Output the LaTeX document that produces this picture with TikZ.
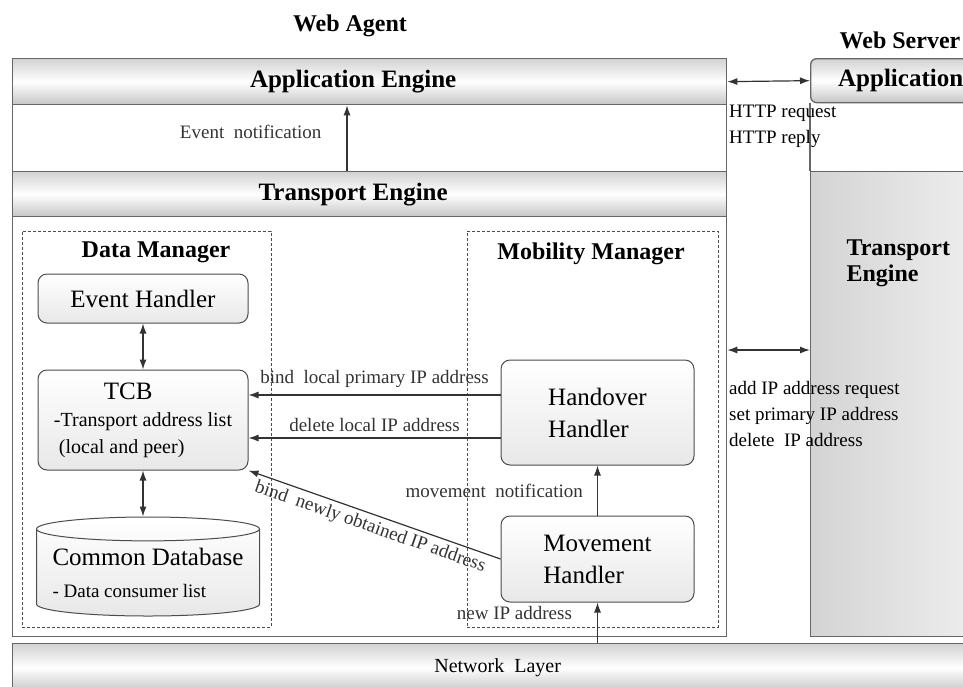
\documentclass[tikz,border=0pt]{standalone}
\usepackage{fontspec}
\setmainfont{Liberation Serif}
\usetikzlibrary{arrows.meta,positioning,fit,shapes.geometric}

\begin{document}
\begin{tikzpicture}[x=1pt,y=-1pt,
        >={Latex[length=10pt,width=7pt]},
        conn/.style={line width=1.2pt,black!80},
        frame/.style={draw=black!60,line width=1.3pt,inner sep=0pt},
        bar/.style={frame,top color=gray!35,bottom color=gray!45,middle color=white,font=\bfseries\fontsize{25}{30}\selectfont},
        handler/.style={draw=black!70,line width=1pt,rounded corners=9pt,top color=white,bottom color=gray!18,align=left,inner sep=0pt,font=\fontsize{25}{32}\selectfont,minimum width=210pt},
        database/.style={draw=black!70,line width=1pt,cylinder,shape border rotate=90,aspect=0.125,top color=white,bottom color=gray!18,align=left,inner sep=0pt,font=\fontsize{25}{32}\selectfont,minimum width=223pt,minimum height=99pt},
        groupbox/.style={draw=black!70,densely dashed,line width=0.8pt,inner sep=0pt},
        title/.style={font=\bfseries\fontsize{24}{29}\selectfont},
        lbl/.style={font=\fontsize{19}{26}\selectfont,inner sep=1pt},
        node distance=46pt
        ]
        \useasboundingbox (0,0) rectangle (963,686);

        % the web agent
        \node[frame,minimum width=714pt,minimum height=578pt,anchor=north west] (agent) at (12,58) {};
        \node[bar,minimum width=714pt,minimum height=46pt,anchor=north west] (appeng) at (12,58) {Application Engine\hspace*{33pt}};
        \node[bar,minimum width=714pt,minimum height=45pt,anchor=north west] (traneng) at (12,171) {Transport Engine\hspace*{33pt}};
        \node[title] (agenttitle) at (350,26) {Web Agent};

        % the web server
        \node[bar,rounded corners=6pt,minimum width=180pt,minimum height=44pt,anchor=north west] (app) at (810,58) {Application};
        \node[frame,left color=gray!34,right color=gray!12,minimum width=180pt,minimum height=465pt,anchor=north west] (srveng) at (810,171) {};
        \node[title,align=left,anchor=north west,font=\bfseries\fontsize{24}{26}\selectfont] (srvtitle) at (843,236) {Transport\\Engine};
        \node[title] (servertitle) at (900,40) {Web Server};
        \draw[black!60,line width=1.3pt] (app.south west) -- (srveng.north west);

        % the network layer
        \node[bar,font=\fontsize{20}{24}\selectfont,minimum width=970pt,minimum height=48pt,anchor=north west] (net) at (12,643) {Network\ \ Layer};

        % the managers
        \node[groupbox,fit={(22,231) (271,627)}] (dm) {};
        \node[groupbox,fit={(467,231) (718,627)}] (mm) {};
        \node[title] (dmtitle) at (156,252) {Data Manager};
        \node[title] (mmtitle) at (591,254) {Mobility Manager};

        % the data manager
        \node[handler,minimum height=49pt] (evh) at (143,298.5) {Event Handler};
        \node[handler,minimum height=100pt,below=of evh,font=\fontsize{20}{27}\selectfont] (tcb)
            {\hspace*{50pt}{\fontsize{25}{30}\selectfont TCB}\\-Transport address list\\\ (local and peer)};
        \node[database,below=of tcb,xshift=5pt] (db) {Common Database\\{\fontsize{19}{24}\selectfont - Data consumer list}};

        % the mobility manager
        \node[handler,minimum width=193pt,minimum height=105pt] (hand) at (597.5,412.5) {Handover\\Handler};
        \node[handler,minimum width=193pt,minimum height=86pt,below=50pt of hand] (mov) {Movement\\Handler};

        % the helper coordinates
        \coordinate (evx) at (347,0);
        \coordinate (srvy) at (0,350);
        \coordinate (bindy) at (0,395);
        \coordinate (dely) at (0,438);

        % the edges
        \draw[conn,<->] (appeng.east) -- (app.west);
        \node[lbl,align=left,anchor=north west] (http) at (728,104) {HTTP request\\HTTP reply};
        \draw[conn,->] (traneng.north -| evx) -- (appeng.south -| evx) node[lbl,pos=0.6,left=24pt] {Event\ \ notification};
        \draw[conn,<->] (agent.east |- srvy) -- (srveng.west |- srvy);
        \node[lbl,align=left,anchor=north west] (ipreq) at (728,380) {add IP address request\\set primary IP address\\delete\ \ IP address};
        \draw[conn,<->] (evh) -- (tcb);
        \draw[conn,<->] (tcb) -- (db.north -| tcb);
        \draw[conn,->] (hand.west |- bindy) -- (tcb.east |- bindy) node[lbl,midway,above=6pt] {bind\ \ local primary IP address};
        \draw[conn,->] (hand.west |- dely) -- (tcb.east |- dely) node[lbl,midway,above=5pt] {delete local IP address};
        \draw[conn,->] (mov.west) -- (tcb.south east) node[lbl,midway,sloped,below=3pt] {bind\ \ newly obtained IP address};
        \draw[conn,->] (mov.north) -- (hand.south) node[lbl,midway,left=13pt] {movement\ \ notification};
        \draw[conn,->] (net.north -| mov) -- (mov.south) node[lbl,pos=0.75,left=24pt] {new IP address};
\end{tikzpicture}
\end{document}
